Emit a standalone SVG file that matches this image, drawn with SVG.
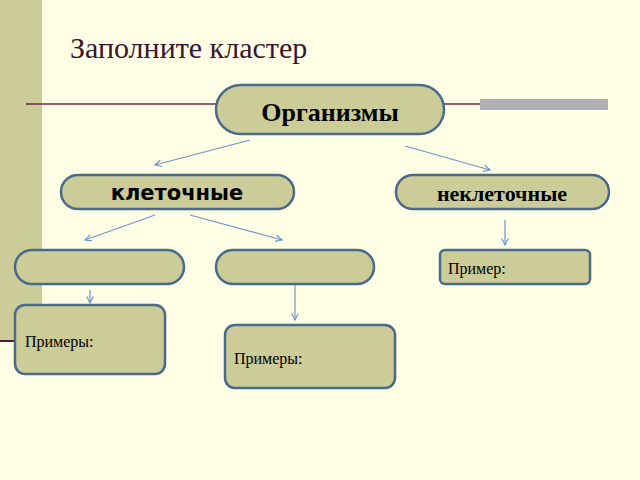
<svg xmlns="http://www.w3.org/2000/svg" width="640" height="480" viewBox="0 0 640 480">
<defs>
<style>
.n{fill:#CCCC99;stroke:#4A6A8A;stroke-width:2.5}
.c{stroke:#6F97C6;stroke-width:1.2;fill:none;marker-end:url(#a)}
.t{font-family:"Liberation Serif",serif;fill:#000}
</style>
<marker id="a" viewBox="0 0 10 10" refX="9" refY="5" markerWidth="8" markerHeight="8" orient="auto" markerUnits="userSpaceOnUse"><path d="M1,1L9,5L1,9" fill="none" stroke="#6F97C6" stroke-width="1.5"/></marker>
</defs>
<rect width="640" height="480" fill="#FFFFE6"/>
<rect x="0" y="0" width="42" height="340" fill="#CCCC99"/>
<line x1="0" y1="341" x2="16" y2="341" stroke="#4A1A30" stroke-width="2"/>
<line x1="26" y1="104" x2="608" y2="104" stroke="#6B2A40" stroke-width="1.5"/>
<rect x="480" y="99" width="128" height="11" fill="#B0B0B8"/>
<text x="70" y="58" class="t" font-size="30" fill="#3A1530" style="fill:#3A1530">Заполните кластер</text>
<g id="connectors">
<line class="c" x1="250" y1="140" x2="155" y2="165"/>
<line class="c" x1="405" y1="146" x2="490" y2="170"/>
<line class="c" x1="155" y1="215" x2="85" y2="240"/>
<line class="c" x1="190" y1="215" x2="282" y2="240"/>
<line class="c" x1="505" y1="220" x2="505" y2="245"/>
<line class="c" x1="90" y1="290" x2="90" y2="303"/>
<line class="c" x1="295" y1="285" x2="295" y2="320"/>
</g>
<g id="n1"><rect class="n" x="216" y="85" width="228" height="49" rx="24.5"/><text class="t" x="330" y="121" font-size="26" font-weight="bold" text-anchor="middle">Организмы</text></g>
<g id="n2"><rect class="n" x="61" y="175" width="233" height="34" rx="17"/><text x="177" y="200" font-family="DejaVu Sans,sans-serif" font-size="21" font-weight="bold" text-anchor="middle">клеточные</text></g>
<g id="n3"><rect class="n" x="396" y="175" width="213" height="34" rx="17"/><text class="t" x="502" y="201" font-size="22" font-weight="bold" text-anchor="middle">неклеточные</text></g>
<g id="n4"><rect class="n" x="15" y="250" width="169" height="34" rx="17"/></g>
<g id="n5"><rect class="n" x="216" y="250" width="158" height="34" rx="17"/></g>
<g id="n6"><rect class="n" x="440" y="250" width="150" height="34" rx="5"/><text class="t" x="448" y="274" font-size="16">Пример:</text></g>
<g id="n7"><rect class="n" x="15" y="305" width="150" height="69" rx="10"/><text class="t" x="25" y="347" font-size="16">Примеры:</text></g>
<g id="n8"><rect class="n" x="225" y="325" width="170" height="63" rx="10"/><text class="t" x="234" y="364" font-size="16">Примеры:</text></g>
</svg>
